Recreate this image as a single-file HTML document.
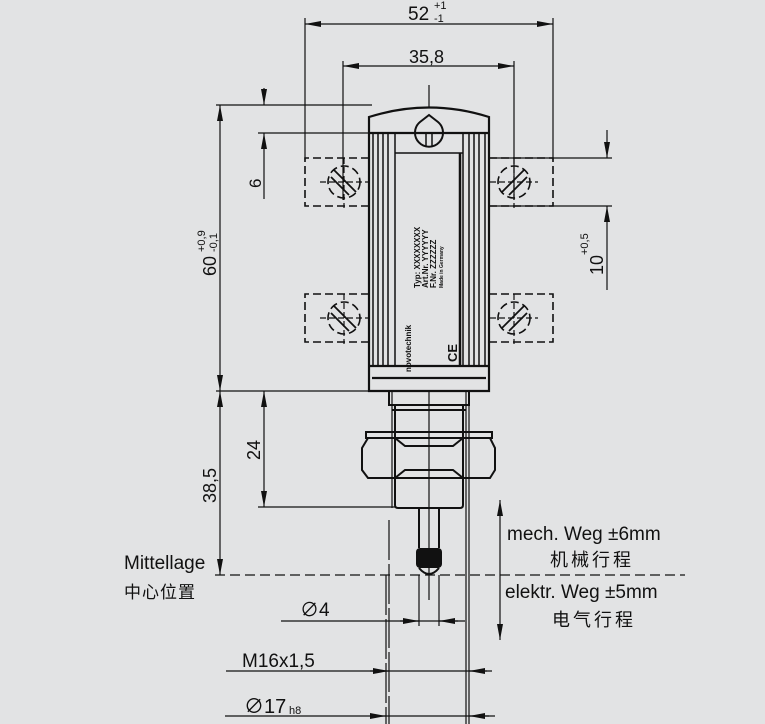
<!DOCTYPE html>
<html><head><meta charset="utf-8"><style>
html,body{margin:0;padding:0;background:#e2e3e4;}
svg{display:block;}
text{font-family:"Liberation Sans","Noto Sans CJK SC",sans-serif;fill:#111;}
</style></head><body>
<svg width="765" height="724" viewBox="0 0 765 724" xmlns="http://www.w3.org/2000/svg">
<defs>
<marker id="a" viewBox="0 0 16 6" refX="16" refY="3" markerWidth="16" markerHeight="6" markerUnits="userSpaceOnUse" orient="auto"><path d="M0,0 L16,3 L0,6z" fill="#111"/></marker>
<marker id="b" viewBox="0 0 16 6" refX="0" refY="3" markerWidth="16" markerHeight="6" markerUnits="userSpaceOnUse" orient="auto"><path d="M16,0 L0,3 L16,6z" fill="#111"/></marker>
</defs>
<rect width="765" height="724" fill="#e2e3e4"/>
<g stroke="#111" stroke-width="1.2" fill="none">
<line x1="305" y1="18" x2="305" y2="160"/>
<line x1="553" y1="18" x2="553" y2="160"/>
<line x1="305" y1="24" x2="553" y2="24" marker-start="url(#b)" marker-end="url(#a)"/>
<line x1="343" y1="61" x2="343" y2="200"/>
<line x1="514" y1="61" x2="514" y2="200"/>
<line x1="343" y1="66" x2="514" y2="66" marker-start="url(#b)" marker-end="url(#a)"/>
<line x1="429" y1="85" x2="429" y2="600"/>
<line x1="216" y1="105" x2="372" y2="105"/>
<line x1="258" y1="133" x2="372" y2="133"/>
<line x1="216" y1="391" x2="372" y2="391"/>
<line x1="220" y1="105" x2="220" y2="391" marker-start="url(#b)" marker-end="url(#a)"/>
<line x1="220" y1="391" x2="220" y2="575" marker-start="url(#b)" marker-end="url(#a)"/>
<line x1="264" y1="88" x2="264" y2="105" marker-end="url(#a)"/>
<line x1="264" y1="199" x2="264" y2="133" marker-end="url(#a)"/>
<line x1="264" y1="391" x2="264" y2="507" marker-start="url(#b)" marker-end="url(#a)"/>
<line x1="258" y1="507" x2="395" y2="507"/>
<line x1="489" y1="158" x2="612" y2="158"/>
<line x1="489" y1="206" x2="612" y2="206"/>
<line x1="607" y1="130" x2="607" y2="158" marker-end="url(#a)"/>
<line x1="607" y1="290" x2="607" y2="206" marker-end="url(#a)"/>
<g stroke-dasharray="8,4" stroke-width="1.6">
<path d="M369,158 H305 V206 H369"/>
<path d="M369,294 H305 V342 H369"/>
<path d="M489,158 H553 V206 H489"/>
<path d="M489,294 H553 V342 H489"/>
<circle cx="344" cy="182" r="16"/>
<circle cx="344" cy="318" r="16"/>
<circle cx="514" cy="182" r="16"/>
<circle cx="514" cy="318" r="16"/>
</g>
<g stroke-dasharray="6,3">
<line x1="320" y1="182" x2="368" y2="182"/><line x1="344" y1="158" x2="344" y2="208"/>
<line x1="320" y1="318" x2="368" y2="318"/><line x1="344" y1="294" x2="344" y2="344"/>
<line x1="490" y1="182" x2="538" y2="182"/><line x1="514" y1="158" x2="514" y2="208"/>
<line x1="490" y1="318" x2="538" y2="318"/><line x1="514" y1="294" x2="514" y2="344"/>
</g>
<g stroke-width="1.8">
<line x1="334" y1="170" x2="356" y2="192"/><line x1="331" y1="177" x2="349" y2="195"/>
<line x1="334" y1="306" x2="356" y2="328"/><line x1="331" y1="313" x2="349" y2="331"/>
<line x1="524" y1="170" x2="502" y2="192"/><line x1="527" y1="177" x2="509" y2="195"/>
<line x1="524" y1="306" x2="502" y2="328"/><line x1="527" y1="313" x2="509" y2="331"/>
</g>
<g stroke-width="2.2">
<path d="M369,391 V117 Q429,98 489,117 V391 Z" fill="#e2e3e4"/>
<line x1="369" y1="133" x2="489" y2="133"/>
<line x1="369" y1="366" x2="489" y2="366"/>
<line x1="372" y1="378" x2="486" y2="378"/>
</g>
<g stroke-width="1.5">
<line x1="373" y1="133" x2="373" y2="366"/><line x1="378" y1="133" x2="378" y2="366"/><line x1="383" y1="133" x2="383" y2="366"/><line x1="388" y1="133" x2="388" y2="366"/><line x1="395" y1="133" x2="395" y2="366"/>
<line x1="463" y1="133" x2="463" y2="366"/><line x1="469" y1="133" x2="469" y2="366"/><line x1="474" y1="133" x2="474" y2="366"/><line x1="479" y1="133" x2="479" y2="366"/><line x1="485" y1="133" x2="485" y2="366"/>
<line x1="395" y1="153" x2="463" y2="153"/>
<line x1="460" y1="153" x2="460" y2="366" stroke-width="2.5"/>
<path d="M429,115 L420,122 A14,14 0 1,0 438,122 Z" stroke-width="2"/>
<line x1="426" y1="134" x2="426" y2="147"/><line x1="432" y1="134" x2="432" y2="147"/>
</g>
<g stroke-width="2">
<path d="M389,391 V405 H469 V391"/>
<path d="M395,405 V505 Q395,508 398,508 H460 Q463,508 463,505 V405"/>
<line x1="392" y1="410" x2="466" y2="410"/>
<rect x="366" y="432" width="126" height="6"/>
<path d="M368,438 L362,448 V470 L368,478 H490 L495,470 V448 L490,438 Z"/>
<path d="M395,438 L405,446 H453 L463,438 M395,478 L405,470 H453 L463,478" />
<line x1="419" y1="508" x2="419" y2="548"/><line x1="439" y1="508" x2="439" y2="548"/>
<path d="M419,568 Q429,580 439,568"/>
</g>
<line x1="392" y1="391" x2="392" y2="508"/>
<line x1="466" y1="391" x2="466" y2="724"/>
<line x1="469" y1="391" x2="469" y2="724"/>
<line x1="215" y1="575" x2="685" y2="575" stroke-dasharray="10,5" stroke-width="1.3"/>
<line x1="386" y1="575" x2="386" y2="724" stroke-dasharray="40,4"/>
<line x1="389" y1="520" x2="389" y2="724" stroke-dasharray="40,4"/>
<line x1="419" y1="575" x2="419" y2="626"/><line x1="439" y1="575" x2="439" y2="626"/>
<line x1="281" y1="621" x2="465" y2="621"/>
<line x1="400" y1="621" x2="419" y2="621" marker-end="url(#a)"/>
<line x1="458" y1="621" x2="439" y2="621" marker-end="url(#a)"/>
<line x1="226" y1="671" x2="492" y2="671"/>
<line x1="370" y1="671" x2="389" y2="671" marker-end="url(#a)"/>
<line x1="487" y1="671" x2="469" y2="671" marker-end="url(#a)"/>
<line x1="225" y1="716" x2="495" y2="716"/>
<line x1="370" y1="716" x2="386" y2="716" marker-end="url(#a)"/>
<line x1="489" y1="716" x2="469" y2="716" marker-end="url(#a)"/>
<line x1="500" y1="500" x2="500" y2="640" marker-start="url(#b)" marker-end="url(#a)"/>
</g>
<rect x="416" y="548" width="26" height="20" rx="4" fill="#111"/>
<text x="408" y="20" font-size="19">52</text>
<text x="434" y="9" font-size="11">+1</text>
<text x="434" y="22" font-size="11">-1</text>
<text x="409" y="63" font-size="18">35,8</text>
<text transform="translate(261,188) rotate(-90)" font-size="17">6</text>
<text transform="translate(216,276) rotate(-90)" font-size="18">60</text>
<text transform="translate(205,252) rotate(-90)" font-size="11">+0,9</text>
<text transform="translate(217,252) rotate(-90)" font-size="11">-0,1</text>
<text transform="translate(216,503) rotate(-90)" font-size="18">38,5</text>
<text transform="translate(260,460) rotate(-90)" font-size="18">24</text>
<text transform="translate(603,275) rotate(-90)" font-size="18">10</text>
<text transform="translate(588,255) rotate(-90)" font-size="11">+0,5</text>
<g font-weight="bold">
<text transform="translate(420,288) rotate(-90)" font-size="8">Typ: XXXXXXXX</text>
<text transform="translate(428,288) rotate(-90)" font-size="8">Art.Nr. YYYYYY</text>
<text transform="translate(436,288) rotate(-90)" font-size="8">F.Nr. ZZZZZZ</text>
<text transform="translate(443,288) rotate(-90)" font-size="5">Made in Germany</text>
<text transform="translate(411,372) rotate(-90)" font-size="8">novotechnik</text>
<text transform="translate(457,362) rotate(-90)" font-size="13">CE</text>
</g>
<text x="124" y="569" font-size="19">Mittellage</text>
<text x="124" y="598" font-size="17" letter-spacing="1">中心位置</text>
<text x="300" y="616" font-size="19">∅4</text>
<text x="242" y="667" font-size="19">M16x1,5</text>
<text x="244" y="713" font-size="20">∅17</text>
<text x="289" y="714" font-size="11">h8</text>
<text x="507" y="540" font-size="19">mech. Weg ±6mm</text>
<text x="550" y="566" font-size="18" letter-spacing="3">机械行程</text>
<text x="505" y="598" font-size="19">elektr. Weg ±5mm</text>
<text x="552" y="626" font-size="18" letter-spacing="3">电气行程</text>
</svg>
</body></html>
